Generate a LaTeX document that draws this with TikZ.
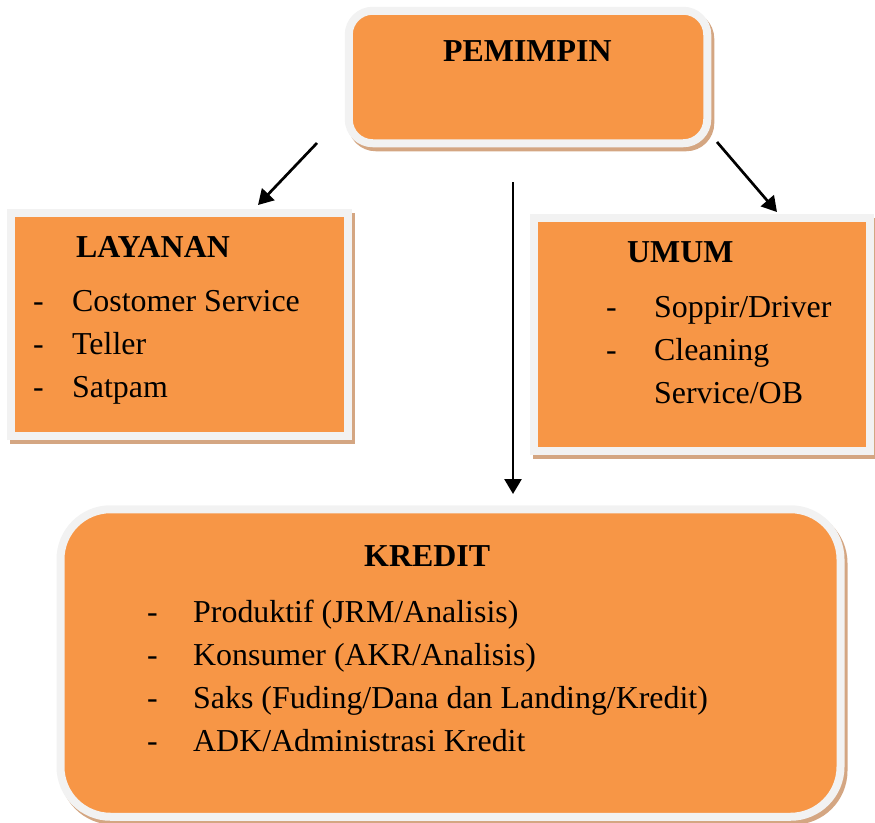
\documentclass[tikz,border=0pt]{standalone}
\usepackage{fontspec}
\setmainfont{Liberation Serif}
\usepackage{tikz}
\usetikzlibrary{arrows.meta,shadows}
\definecolor{boxorange}{RGB}{247,150,70}
\definecolor{ringgray}{RGB}{242,242,242}
\definecolor{shadowtan}{RGB}{212,166,130}
\tikzset{x=1pt, y=-1pt,
	every node/.style={
		inner sep=0pt,
		font=\fontsize{31.9}{43}\selectfont
	},
	unit/.style={
		draw=ringgray,
		line width=8pt,
		fill=boxorange,
		drop shadow={shadow xshift=3pt, shadow yshift=-4pt,
			fill=shadowtan, draw=shadowtan, opacity=1}
	},
	head/.style={
		anchor=base west,
		font=\fontsize{31.9}{43}\selectfont\bfseries
	},
	items/.style={anchor=base west},
	every edge/.style={
		draw,
		-{Triangle[width=17pt,length=15pt]},
		line width=2.7pt
	}
}

\begin{document}
\begin{tikzpicture}
	\useasboundingbox (0,0) rectangle (875,822);
	% boxes
	\node[unit, rounded corners=24pt, minimum width=358.5pt, minimum height=132.5pt] (pemimpin) at (528,77) {};
	\node[unit, minimum width=337pt, minimum height=223pt] (layanan) at (179.5,324.5) {};
	\node[unit, minimum width=336.5pt, minimum height=233pt] (umum) at (702,334.5) {};
	\node[unit, rounded corners=50pt, minimum width=780pt, minimum height=307.5pt] (kredit) at (450.5,663) {};
	% titles
	\node[head] (tpemimpin) at (443,61) {PEMIMPIN};
	\node[head] (tlayanan) at (76,257) {LAYANAN};
	\node[head] (tumum) at (627,262) {UMUM};
	\node[head] (tkredit) at (364,566) {KREDIT};
	% lists
	\node[items] (llayanan) at (33,311) {
		\begin{tabular}[t]{@{}p{39pt}@{}l@{}}
			- & Costomer Service\\
			- & Teller\\
			- & Satpam
		\end{tabular}};
	\node[items] (lumum) at (606,317) {
		\begin{tabular}[t]{@{}p{48pt}@{}l@{}}
			- & Soppir/Driver\\
			- & Cleaning\\
			  & Service/OB
		\end{tabular}};
	\node[items] (lkredit) at (147,622) {
		\begin{tabular}[t]{@{}p{46pt}@{}l@{}}
			- & Produktif (JRM/Analisis)\\
			- & Konsumer (AKR/Analisis)\\
			- & Saks (Fuding/Dana dan Landing/Kredit)\\
			- & ADK/Administrasi Kredit
		\end{tabular}};
	% arrows
	\coordinate (l0) at (317,143);
	\coordinate (l1) at (258,205);
	\coordinate (m0) at (513,182);
	\coordinate (m1) at (513,494);
	\coordinate (r0) at (717,142);
	\coordinate (r1) at (777,212);
	\draw (l0) edge (l1)
		(m0) edge (m1)
		(r0) edge (r1);
\end{tikzpicture}
\end{document}
